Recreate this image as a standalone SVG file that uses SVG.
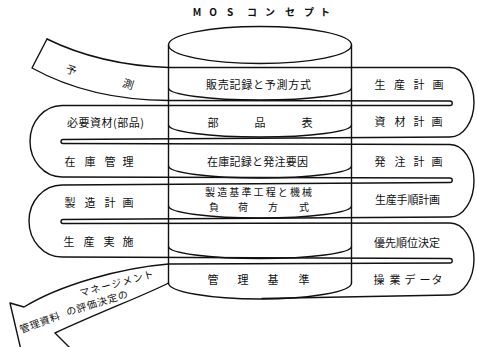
<svg xmlns="http://www.w3.org/2000/svg" width="477" height="347" viewBox="0 0 477 347">
<style>
.ln{fill:none;stroke:#111;stroke-width:1.4;stroke-linejoin:round;stroke-linecap:round}
.t{font-family:"Noto Sans CJK JP","Noto Sans",sans-serif;font-size:11px;fill:#111}
.c{text-anchor:middle}
.s{font-size:10px}
</style>
<rect width="477" height="347" fill="#fff"/>
<g id="cylinder">
<ellipse class="ln" cx="260" cy="45" rx="91.5" ry="18.5"/>
<path class="ln" d="M168.5,45 V283 M351.5,45 V283"/>
<path class="ln" d="M168.5,283 A91.5 16 0 0 0 351.5,283"/>
<path class="ln" d="M168.5,88 A91.5 12 0 0 0 351.5,88 M168.5,125 A91.5 12 0 0 0 351.5,125 M168.5,166 A91.5 12 0 0 0 351.5,166 M168.5,206 A91.5 12 0 0 0 351.5,206 M168.5,246.5 A91.5 12 0 0 0 351.5,246.5"/>
</g>
<g id="band">
<path id="edgeA" class="ln" d="M47,39 Q100,65 168.5,67.5 L450,67.5 A24 34.75 0 0 1 450,137 L63,139.5 A2 2 0 0 0 63,143.5 L450,144.5 A24 36.25 0 0 1 450,217 L63,219.5 A2 2 0 0 0 63,223.5 L450,223 A24 36 0 0 1 450,295 L262,298.5"/>
<path id="edgeB" class="ln" d="M47,39 L32,68 Q90,100 168.5,100.5 L450,101 A2.25 2.25 0 0 1 450,105.5 L62,105.5 A32 35.75 0 0 0 62,177 L450,178 A2.25 2.25 0 0 1 450,182.5 L62,185 A33 36 0 0 0 62,257 L450,258.5 A2.25 2.25 0 0 1 450,263 L168.5,264 C120,268 60,285 24,307 L10,303 L21,350"/>
<path id="arrowBottom" class="ln" d="M168.5,283 C150,293 100,312 55,333 L78,356"/>
</g>
<g id="labels">
<text class="t c" font-weight="bold" x="197 213 230 252 270 290 309 325" y="16" style="font-size:10px">MOSコンセプト</text>
<text class="t c" transform="translate(70,74) rotate(18)">予</text>
<text class="t c" transform="translate(127,88) rotate(18)">測</text>
<text class="t" x="206" y="89" textLength="105" lengthAdjust="spacing">販売記録と予測方式</text>
<text class="t c" x="380 399.5 419 438" y="89">生産計画</text>
<text class="t" x="67" y="127" textLength="77" lengthAdjust="spacing">必要資材(部品)</text>
<text class="t c" x="213 260 307" y="127">部品表</text>
<text class="t c" x="380 400 419 437" y="126">資材計画</text>
<text class="t c" x="70 90 110 128" y="166">在庫管理</text>
<text class="t" x="207" y="166" textLength="101" lengthAdjust="spacing">在庫記録と発注要因</text>
<text class="t c" x="380 400 419 437" y="166">発注計画</text>
<text class="t c" x="70 90 110 128" y="207">製造計画</text>
<text class="t" x="205" y="196" textLength="107" lengthAdjust="spacing" style="font-size:10px">製造基準工程と機械</text>
<text class="t c" x="214 243 273 304" y="211" style="font-size:10px">負荷方式</text>
<text class="t" x="375" y="204" textLength="65" lengthAdjust="spacing">生産手順計画</text>
<text class="t c" x="69 89 109 128" y="246">生産実施</text>
<text class="t" x="374" y="247" textLength="66" lengthAdjust="spacing">優先順位決定</text>
<text class="t c" x="213 243 273 304" y="284">管理基準</text>
<text class="t c" x="379 395 410 425 437" y="284">操業データ</text>
<text class="t c s" transform="translate(117.5,287) rotate(-15)" textLength="76" lengthAdjust="spacing">マネージメント</text>
<text class="t c s" transform="translate(98,306.5) rotate(-17)" textLength="64" lengthAdjust="spacing">の評価決定の</text>
<text class="t c s" transform="translate(41,326) rotate(-20)" textLength="42" lengthAdjust="spacing">管理資料</text>
</g>
</svg>
